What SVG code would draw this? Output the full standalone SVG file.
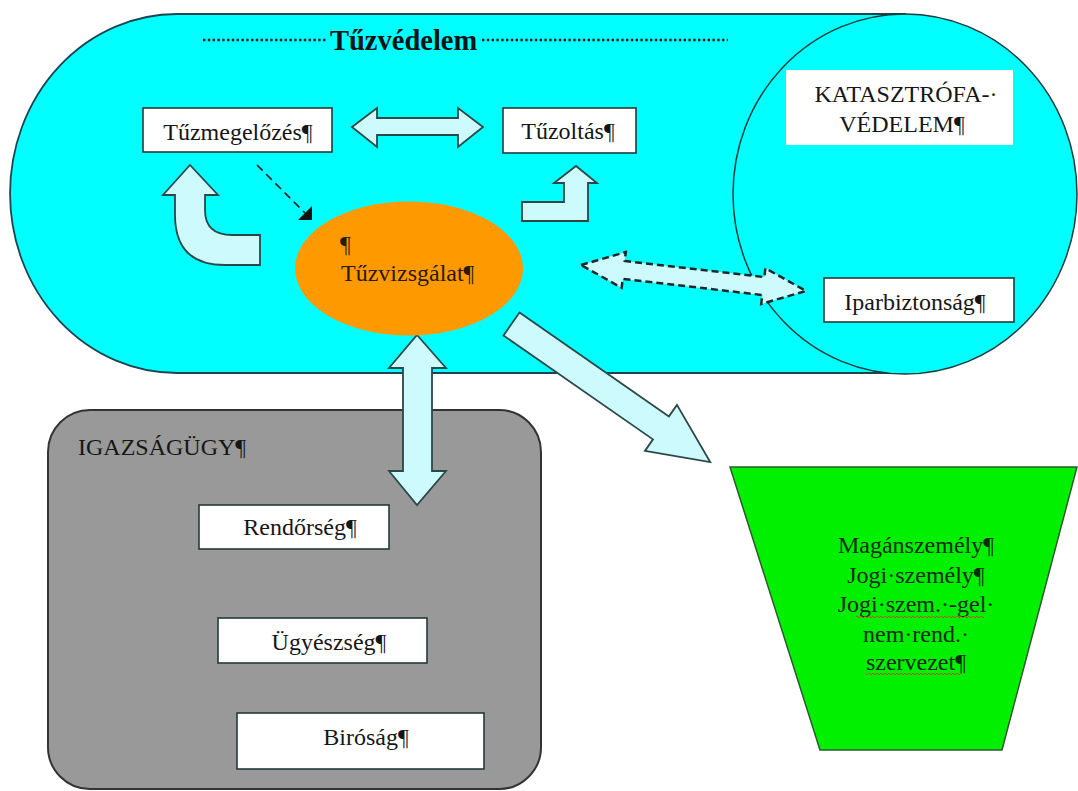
<svg xmlns="http://www.w3.org/2000/svg" width="1078" height="791" viewBox="0 0 1078 791">
<defs>
<style>
.t{font-family:"Liberation Serif","Times New Roman",serif;font-size:24px;fill:#161616}
.tb{font-family:"Liberation Serif","Times New Roman",serif;font-size:28.5px;font-weight:bold;fill:#0c1414}
.box{fill:#ffffff;stroke:#243a3a;stroke-width:1.6}
.ba{fill:#cdfbfd;stroke:#2b4747;stroke-width:1.8;stroke-linejoin:miter}
.dots{stroke:#1a1a1a;stroke-width:2.6;stroke-dasharray:2.4 2.4}
</style>
<pattern id="wave" width="4" height="3" patternUnits="userSpaceOnUse"><path d="M0,2 Q1,0.2 2,2 T4,2" fill="none" stroke="#e03030" stroke-width="0.8"/></pattern>
</defs>
<rect width="1078" height="791" fill="#ffffff"/>

<g id="tuzvedelem">
<path d="M177,14 L905,14 L905,373 L177,373 A167,179.5 0 0 1 177,14 Z" fill="#00ffff" stroke="#1d4550" stroke-width="1.8"/>
<line class="dots" x1="203" y1="40" x2="327" y2="40"/>
<text class="tb" x="330" y="50">Tűzvédelem</text>
<line class="dots" x1="482" y1="40" x2="728" y2="40"/>
</g>

<g id="katasztrofavedelem">
<ellipse cx="905" cy="194" rx="172" ry="180" fill="#00ffff" stroke="#1d3a3a" stroke-width="1.5"/>
<rect x="786" y="70" width="227" height="75" fill="#ffffff"/>
<text class="t" x="906" y="102" text-anchor="middle">KATASZTRÓFA-·</text>
<text class="t" x="902" y="132" text-anchor="middle">VÉDELEM¶</text>
</g>

<g id="igazsagugy">
<rect x="48" y="410" width="493" height="379" rx="42" ry="42" fill="#999999" stroke="#333333" stroke-width="2"/>
<text class="t" x="78" y="455">IGAZSÁGÜGY¶</text>
</g>

<g id="szemelyek">
<polygon points="730,467 1077,467 1002,750 820,750" fill="#00f000" stroke="#2d5a2d" stroke-width="1.5"/>
<text class="t" x="916" y="553" text-anchor="middle" style="fill:#0e2a0e">Magánszemély¶</text>
<text class="t" x="916" y="583" text-anchor="middle" style="fill:#0e2a0e">Jogi·személy¶</text>
<text class="t" x="916" y="612" text-anchor="middle" style="fill:#0e2a0e">Jogi·szem.·-gel·</text>
<text class="t" x="916" y="642" text-anchor="middle" style="fill:#0e2a0e">nem·rend.·</text>
<text class="t" x="916" y="670" text-anchor="middle" style="fill:#0e2a0e">szervezet¶</text>
<rect x="856" y="615" width="128" height="3" fill="url(#wave)"/>
<rect x="865" y="672" width="97" height="3" fill="url(#wave)"/>
</g>

<g id="connectors">
<path class="ba" d="M352,127 L377,108 L377,118 L458,118 L458,108 L483,127 L458,147 L458,135 L377,135 L377,147 Z"/>
<path class="ba" d="M175,195 L175,215 Q175,265 225,265 L260,265 L260,235 L232,235 Q205,235 205,210 L205,195 L218,195 L190,165 L163,195 Z"/>
<path class="ba" d="M522,202 L564,202 L564,183 L554,183 L576,166 L597,183 L588,183 L588,221 L522,221 Z"/>
<line x1="257" y1="165" x2="305" y2="213" stroke="#1a1a1a" stroke-width="1.6" stroke-dasharray="8 5"/>
<polygon points="298,220 312,220 312,206" fill="#111111"/>
<path class="ba" d="M417,335 L446,368 L432,368 L432,471 L446,471 L417,505 L389,471 L403,471 L403,368 L389,368 Z"/>
<path class="ba" transform="translate(511.5,324) rotate(34.8)" d="M0,-14 L182,-14 L182,-28 L242,0 L182,28 L182,14 L0,14 Z"/>
<path class="ba" transform="translate(581,265) rotate(6.59)" d="M0,0 L43,-18 L43,-9 L183.5,-9 L183.5,-18 L226.5,0 L183.5,18 L183.5,9 L43,9 L43,18 Z" style="stroke:#1a2a2a;stroke-width:2.5;stroke-dasharray:7 4"/>
</g>

<g id="tuzmegelozes">
<rect class="box" x="143" y="108" width="189" height="44"/>
<text class="t" x="238" y="140" text-anchor="middle">Tűzmegelőzés¶</text>
</g>

<g id="tuzoltas">
<rect class="box" x="503" y="108" width="133" height="45"/>
<text class="t" x="568" y="139" text-anchor="middle">Tűzoltás¶</text>
</g>

<g id="tuzvizsgalat">
<ellipse cx="409" cy="268.5" rx="114" ry="67" fill="#ff9900"/>
<text class="t" x="340" y="252" style="fill:#2a1a00">¶</text>
<text class="t" x="341" y="281" style="fill:#2a1a00">Tűzvizsgálat¶</text>
</g>

<g id="iparbiztonsag">
<rect class="box" x="824" y="278" width="190" height="44"/>
<text class="t" x="915" y="310" text-anchor="middle">Iparbiztonság¶</text>
</g>

<g id="rendorseg">
<rect class="box" x="199" y="505" width="190" height="44"/>
<text class="t" x="300" y="535" text-anchor="middle">Rendőrség¶</text>
</g>

<g id="ugyeszseg">
<rect class="box" x="218" y="618" width="209" height="45"/>
<text class="t" x="329" y="650" text-anchor="middle">Ügyészség¶</text>
</g>

<g id="birosag">
<rect class="box" x="237" y="713" width="247" height="56"/>
<text class="t" x="366" y="745" text-anchor="middle">Biróság¶</text>
</g>
</svg>
